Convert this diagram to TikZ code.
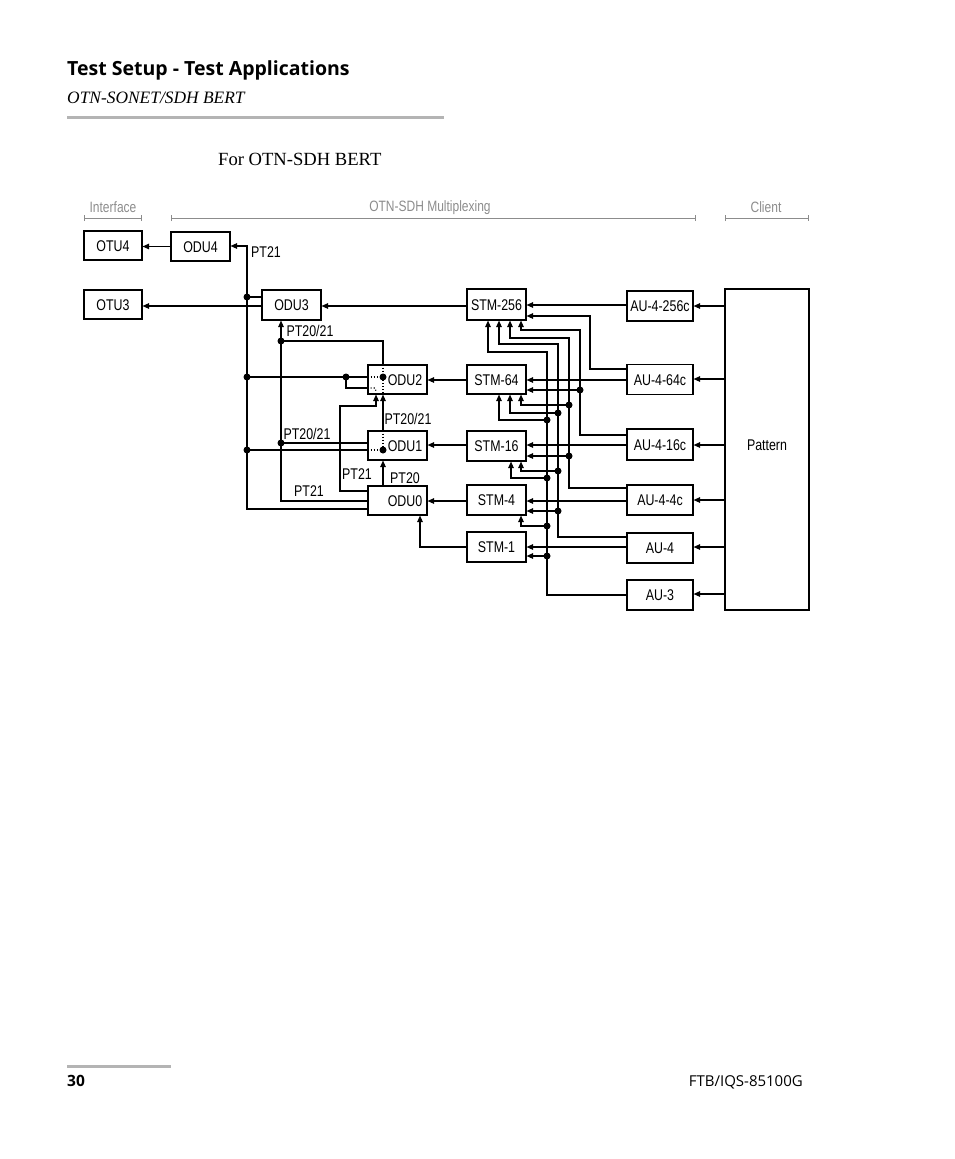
\documentclass[tikz,border=0pt]{standalone}
\usepackage{fontspec}
\setmainfont{Liberation Serif}
\newfontfamily\dfont[FakeStretch=0.8]{Liberation Sans}
\newfontfamily\hfont{Open Sans}
\usetikzlibrary{arrows.meta}
\definecolor{rulegray}{HTML}{B4B4B4}
\definecolor{catgray}{HTML}{8C8C8C}
\begin{document}
\begin{tikzpicture}[x=1pt,y=-1pt,
  dfnt/.style={font=\dfont\fontsize{15.5}{17}\selectfont},
  box/.style={draw, line width=1.1pt, inner sep=0pt, dfnt, text height=11.5pt, text depth=0pt},
  bx/.style={box, minimum width=59pt, minimum height=29pt},
  au/.style={box, minimum width=66pt, minimum height=29.5pt},
  wire/.style={line width=1.1pt},
  arr/.style={wire, -{Triangle[length=6.5pt,width=5.5pt]}},
  dotl/.style={line width=1.1pt, dotted},
  lbl/.style={dfnt, inner sep=0pt},
  cat/.style={font=\dfont\fontsize{15}{17}\selectfont, text=catgray, inner sep=0pt},
  catline/.style={draw=catgray, line width=0.8pt, {Bar[width=6pt]}-{Bar[width=6pt]}},
  jdot/.style={fill, circle, inner sep=0pt, minimum size=7pt}
]
\useasboundingbox (0,0) rectangle (954,1159);

% header / footer
\node[anchor=base west, inner sep=0pt, font=\hfont\bfseries\fontsize{19.5}{22}\selectfont] (title) at (67,75) {Test Setup - Test Applications};
\node[anchor=base west, inner sep=0pt, font=\itshape\fontsize{17.4}{20}\selectfont] (sub) at (67,103) {OTN-SONET/SDH BERT};
\fill[rulegray] (67,115.5) rectangle (444,118.5);
\node[anchor=base west, inner sep=0pt, font=\fontsize{18.6}{21}\selectfont] (for) at (218,165) {For OTN-SDH BERT};
\fill[rulegray] (67,1064.5) rectangle (171,1067.5);
\node[anchor=base west, inner sep=0pt, font=\hfont\bfseries\fontsize{15.5}{18}\selectfont] (pg) at (67,1086) {30};
\node[anchor=base east, inner sep=0pt, font=\hfont\fontsize{15}{18}\selectfont] (doc) at (803,1086) {FTB/IQS-85100G};

% category labels
\node[cat] (cI) at (113,207) {Interface};
\node[cat] (cM) at (430,208) {OTN-SDH Multiplexing};
\node[cat] (cC) at (766,207) {Client};
\draw[catline] (84,218) -- (142,218);
\draw[catline] (171,218) -- (696,218);
\draw[catline] (725,218) -- (809,218);

% boxes
\node[box, minimum width=58pt, minimum height=29pt] (OTU4) at (113,245.5) {OTU4};
\node[bx] (ODU4) at (200.5,246.5) {ODU4};
\node[box, minimum width=58pt, minimum height=29pt] (OTU3) at (113,304.5) {OTU3};
\node[bx, minimum height=30pt] (ODU3) at (291.5,305) {ODU3};
\node[bx] (ODU2) at (397.5,379.5) {\hspace*{15pt}ODU2};
\node[bx] (ODU1) at (397.5,445.5) {\hspace*{15pt}ODU1};
\node[bx] (ODU0) at (397.5,500.5) {\hspace*{15pt}ODU0};
\node[bx, minimum height=31pt] (STM256) at (496.5,304.5) {STM-256};
\node[bx] (STM64) at (496.5,379.5) {STM-64};
\node[bx, minimum height=30pt] (STM16) at (496.5,446) {STM-16};
\node[bx, minimum height=30pt] (STM4) at (496.5,500) {STM-4};
\node[bx, minimum height=30pt] (STM1) at (496.5,547) {STM-1};
\node[au, minimum height=30pt] (A256) at (660,306) {AU-4-256c};
\node[au] (A64) at (660,379.5) {AU-4-64c};
\node[au, minimum height=31pt] (A16) at (660,444.5) {AU-4-16c};
\node[au, minimum height=30pt] (A4c) at (660,500) {AU-4-4c};
\node[au, minimum height=30pt] (A4) at (660,548) {AU-4};
\node[au, minimum height=30pt] (A3) at (660,595) {AU-3};
\node[box, minimum width=84pt, minimum height=321pt] (PAT) at (767,449.5) {\raisebox{4.5pt}{Pattern}};

% left side (OTN)
\draw[arr] (ODU4.west) -- (OTU4.east |- ODU4.west);
\draw[arr] (ODU3.west |- 0,306) -- (OTU3.east |- 0,306);
\draw[arr] (ODU0.west |- 0,509) -| (247,246) -- (ODU4.east |- 0,246);
\coordinate (b1) at (247,297);
\coordinate (b2) at (247,377);
\coordinate (b3) at (247,450);
\draw[wire] (b1) -- (ODU3.west |- b1);
\draw[wire] (b2) -- (ODU2.west |- b2);
\draw[wire] (b3) -- (ODU1.west |- b3);
\draw[arr] (ODU0.west |- 0,501) -| (ODU3.south -| 281,0);
\coordinate (c1) at (281,341);
\coordinate (c2) at (281,443);
\draw[wire] (c1) -| (ODU2.north -| 383,0);
\draw[wire] (c2) -- (ODU1.west |- c2);
% ODU2 inner
\coordinate (i2) at (383,377);
\draw[dotl] (ODU2.north -| 383,0) -- (ODU2.south -| 383,0);
\draw[dotl] (ODU2.west |- i2) -- (i2);
\coordinate (c3) at (346,377);
\draw[wire] (c3) |- (ODU2.west |- 0,388);
\draw[dotl] (ODU2.west |- 0,388) -- (375,388) -- (376,391);
% ODU1 inner
\coordinate (i1) at (383,450);
\draw[dotl] (ODU1.north -| 383,0) -- (i1);
\draw[dotl] (ODU1.west |- i1) -- (i1);
\draw[arr] (ODU1.north -| 383,0) -- (ODU2.south -| 383,0);
\draw[arr] (ODU0.north -| 383,0) -- (ODU1.south -| 383,0);
\draw[arr] (ODU0.west |- 0,491) -| (340,406) -| (ODU2.south -| 376,0);

% STM -> ODU
\draw[arr] (STM256.west |- 0,306) -- (ODU3.east |- 0,306);
\draw[arr] (STM64.west |- 0,380) -- (ODU2.east |- 0,380);
\draw[arr] (STM16.west |- 0,445) -- (ODU1.east |- 0,445);
\draw[arr] (STM4.west |- 0,501) -- (ODU0.east |- 0,501);
\draw[arr] (STM1.west) -| (ODU0.south -| 420,0);

% Pattern -> AU
\foreach \n/\yy in {A256/306, A64/379, A16/445, A4c/500, A4/547, A3/594}
  \draw[arr] (PAT.west |- 0,\yy) -- (\n.east |- 0,\yy);

% AU -> STM
\draw[arr] (A256.west |- 0,305) -- (STM256.east |- 0,305);
\draw[arr] (A64.west |- 0,380) -- (STM64.east |- 0,380);
\draw[arr] (A64.west |- 0,369) -| (590,316) -- (STM256.east |- 0,316);
\draw[arr] (A16.west |- 0,445) -- (STM16.east |- 0,445);
\draw[arr] (A16.west |- 0,435) -| (580,330) -| (STM256.south -| 521,0);
\coordinate (e1) at (580,390);
\draw[arr] (e1) -- (STM64.east |- e1);
\draw[arr] (A4c.west |- 0,501) -- (STM4.east |- 0,501);
\draw[arr] (A4c.west |- 0,488) -| (569,338) -| (STM256.south -| 510,0);
\coordinate (f1) at (569,405);
\coordinate (f2) at (569,456);
\draw[arr] (f1) -| (STM64.south -| 521,0);
\draw[arr] (f2) -- (STM16.east |- f2);
\draw[arr] (A4.west |- 0,547) -- (STM1.east |- 0,547);
\draw[arr] (A4.west |- 0,537) -| (558,344) -| (STM256.south -| 499,0);
\coordinate (g1) at (558,413);
\coordinate (g2) at (558,471);
\coordinate (g3) at (558,511);
\draw[arr] (g1) -| (STM64.south -| 510,0);
\draw[arr] (g2) -| (STM16.south -| 521,0);
\draw[arr] (g3) -- (STM4.east |- g3);
\draw[arr] (A3.west |- 0,595) -| (547,352) -| (STM256.south -| 488,0);
\coordinate (h1) at (547,420);
\coordinate (h2) at (547,478);
\coordinate (h3) at (547,526);
\coordinate (h4) at (547,556);
\draw[arr] (h1) -| (STM64.south -| 499,0);
\draw[arr] (h2) -| (STM16.south -| 511,0);
\draw[arr] (h3) -| (STM4.south -| 521,0);
\draw[arr] (h4) -- (STM1.east |- h4);

% junction dots
\foreach \p in {b1,b2,b3,c1,c2,c3,i1,i2,e1,f1,f2,g1,g2,g3,h1,h2,h3,h4}
  \node[jdot] at (\p) {};

% labels
\node[lbl] (l1) at (266,252) {PT21};
\node[lbl] (l2) at (310,331) {PT20/21};
\node[lbl] (l3) at (408,419) {PT20/21};
\node[lbl] (l4) at (307,434) {PT20/21};
\node[lbl] (l5) at (357,474) {PT21};
\node[lbl] (l6) at (405,478) {PT20};
\node[lbl] (l7) at (309,491) {PT21};
\end{tikzpicture}
\end{document}
